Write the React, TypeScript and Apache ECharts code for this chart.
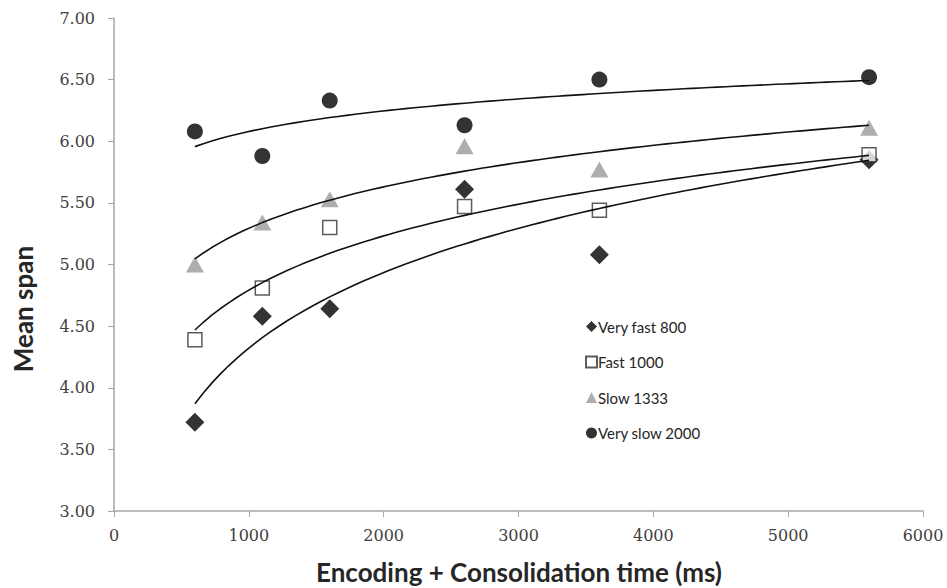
import React, { useEffect, useRef } from "react";
import * as echarts from "echarts";

const xValues = [600, 1100, 1600, 2600, 3600, 5600];
const veryFast800 = [3.72, 4.58, 4.64, 5.61, 5.08, 5.85];
const fast1000 = [4.39, 4.81, 5.30, 5.47, 5.44, 5.89];
const slow1333 = [5.00, 5.34, 5.53, 5.96, 5.77, 6.11];
const verySlow2000 = [6.08, 5.88, 6.33, 6.13, 6.50, 6.52];
const seriesNames = ["Very fast 800", "Fast 1000", "Slow 1333", "Very slow 2000"];
const yTitle = "Mean span";
const xTitle = "Encoding + Consolidation time (ms)";

// Logarithmic least-squares trendline (as Excel draws it) derived from the data
function logTrend(xs: number[], ys: number[]) {
  const lx = xs.map((x) => Math.log(x));
  const n = xs.length;
  const mx = lx.reduce((a, b) => a + b, 0) / n;
  const my = ys.reduce((a, b) => a + b, 0) / n;
  let sxy = 0, sxx = 0;
  for (let i = 0; i < n; i++) {
    sxy += (lx[i] - mx) * (ys[i] - my);
    sxx += (lx[i] - mx) * (lx[i] - mx);
  }
  const a = sxy / sxx;
  const b = my - a * mx;
  const x0 = Math.min(...xs), x1 = Math.max(...xs);
  const pts: number[][] = [];
  const steps = 80;
  for (let i = 0; i <= steps; i++) {
    const x = x0 + ((x1 - x0) * i) / steps;
    pts.push([x, a * Math.log(x) + b]);
  }
  return pts;
}

const pair = (ys: number[]) => xValues.map((x, i) => [x, ys[i]]);

export default function App() {
  const ref = useRef<HTMLDivElement>(null);
  useEffect(() => {
    if (!ref.current) return;
    const chart = echarts.init(ref.current, null, { renderer: "svg" });
    const sansFont = "Lato";
    const serifFont = "DejaVu Serif";
    const trendStyle = { color: "#111111", width: 1.6 };
    const trend = (ys: number[], name: string) => ({
      type: "line",
      name: name + " trend",
      data: logTrend(xValues, ys),
      showSymbol: false,
      smooth: false,
      lineStyle: trendStyle,
      itemStyle: { color: "#111111" },
      z: 5,
      silent: true,
    });
    chart.setOption({
      animation: false,
      backgroundColor: "#ffffff",
      grid: { left: 114, right: 24, top: 18, bottom: 77, containLabel: false },
      xAxis: {
        type: "value",
        min: 0,
        max: 6000,
        interval: 1000,
        axisLine: { show: true, lineStyle: { color: "#a6a6a6", width: 1.5 } },
        axisTick: { show: true, inside: false, length: 6, lineStyle: { color: "#a6a6a6" } },
        splitLine: { show: false },
        axisLabel: {
          margin: 16,
          color: "#404040",
          fontFamily: serifFont,
          fontSize: 16,
          formatter: (v: number) => String(v),
        },
      },
      yAxis: {
        type: "value",
        min: 3,
        max: 7,
        interval: 0.5,
        axisLine: { show: true, lineStyle: { color: "#a6a6a6", width: 1.5 } },
        axisTick: { show: true, inside: false, length: 6, lineStyle: { color: "#a6a6a6" } },
        splitLine: { show: false },
        axisLabel: {
          margin: 19,
          color: "#404040",
          fontFamily: serifFont,
          fontSize: 16,
          formatter: (v: number) => v.toFixed(2),
        },
      },
      legend: {
        data: seriesNames,
        orient: "vertical",
        left: 580,
        top: 314,
        itemWidth: 11,
        itemHeight: 11,
        itemGap: 20.5,
        textStyle: { fontFamily: sansFont, fontSize: 15, color: "#262626", padding: [0, 0, 0, -4] },
      },
      graphic: [
        {
          type: "text",
          x: 23,
          y: 309,
          rotation: Math.PI / 2,
          style: {
            text: yTitle,
            fontFamily: sansFont,
            fontWeight: "bold",
            fontSize: 26,
            fill: "#262626",
            textAlign: "center",
            textVerticalAlign: "middle",
          },
        },
        {
          type: "text",
          x: 519,
          y: 572,
          style: {
            text: xTitle,
            fontFamily: sansFont,
            fontWeight: "bold",
            fontSize: 26,
            fill: "#262626",
            textAlign: "center",
            textVerticalAlign: "middle",
          },
        },
      ],
      series: [
        {
          type: "scatter",
          name: seriesNames[0],
          data: pair(veryFast800),
          symbol: "diamond",
          symbolSize: [19, 19],
          itemStyle: { color: "#000000" },
          z: 3,
        },
        {
          type: "scatter",
          name: seriesNames[1],
          data: pair(fast1000),
          symbol: "rect",
          symbolSize: 14,
          itemStyle: { color: "#ffffff", borderColor: "#333333", borderWidth: 1.5 },
          z: 3,
        },
        {
          type: "scatter",
          name: seriesNames[2],
          data: pair(slow1333),
          symbol: "triangle",
          symbolSize: [18, 16],
          itemStyle: { color: "#9a9a9a" },
          z: 3,
        },
        {
          type: "scatter",
          name: seriesNames[3],
          data: pair(verySlow2000),
          symbol: "circle",
          symbolSize: 16,
          itemStyle: { color: "#000000" },
          z: 3,
        },
        trend(veryFast800, seriesNames[0]),
        trend(fast1000, seriesNames[1]),
        trend(slow1333, seriesNames[2]),
        trend(verySlow2000, seriesNames[3]),
      ],
    });
    return () => chart.dispose();
  }, []);
  return (
    <div
      ref={ref}
      style={{ position: "absolute", left: 0, top: 0, width: 947, height: 588 }}
    />
  );
}
